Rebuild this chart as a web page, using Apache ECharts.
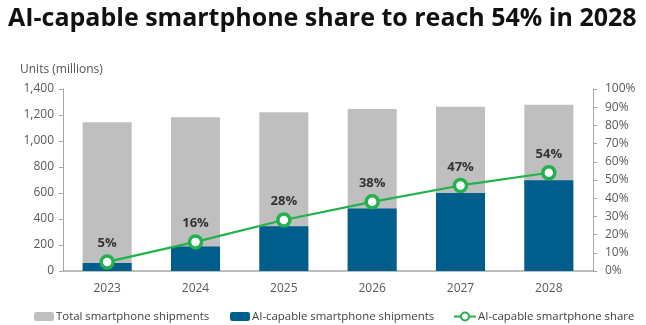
<!DOCTYPE html>
<html><head><meta charset="utf-8">
<script src="https://cdn.jsdelivr.net/npm/echarts@6/dist/echarts.min.js"></script>
<style>html,body{margin:0;padding:0;background:#fff}#c{width:646px;height:325px}</style>
</head><body><div id="c"></div>
<script>
const years = ['2023','2024','2025','2026','2027','2028'];
const totalShipments = [1144, 1182, 1221, 1246, 1264, 1279];
const aiShipments = [62, 188, 345, 480, 600, 698];
const aiShare = [5, 16, 28, 38, 47, 54];
const leftTicks = [0, 200, 400, 600, 800, 1000, 1200, 1400];
const rightTicks = [0, 10, 20, 30, 40, 50, 60, 70, 80, 90, 100];
const seriesNames = ['Total smartphone shipments','AI-capable smartphone shipments','AI-capable smartphone share'];

const chart = echarts.init(document.getElementById('c'), null, {renderer:'canvas'});
const axisTxt = {color:'#595959', fontSize:12, fontFamily:'Open Sans'};
const legTxt = {fontFamily:'Open Sans', fontSize:11.4, color:'#404040', padding:[0,0,0,-3]};
chart.setOption({
  animation:false,
  title:[{text:'AI-capable smartphone share to reach 54% in 2028', left:3, top:1,
    textStyle:{fontFamily:'Open Sans', fontWeight:'bold', fontSize:25, color:'#111'}},
    {text:'Units (millions)', left:15, top:59, textStyle:{fontFamily:'Open Sans', fontWeight:'normal', fontSize:12, color:'#555'}}],
  grid:{left:63, right:53, top:89, bottom:54},
  legend:[
    {bottom:3, left:34, padding:0, itemWidth:20, itemHeight:9, textStyle:legTxt, data:[seriesNames[0]]},
    {bottom:3, left:230, padding:0, itemWidth:20, itemHeight:9, textStyle:legTxt, data:[seriesNames[1]]},
    {bottom:3, left:453, padding:0, itemWidth:22, itemHeight:10, textStyle:legTxt, data:[seriesNames[2]]}
  ],
  xAxis:{type:'category', data:years, axisTick:{show:false},
    axisLine:{lineStyle:{color:'#A6A6A6', width:1.5}},
    axisLabel:Object.assign({margin:12}, axisTxt)},
  yAxis:[
    {type:'value', min:leftTicks[0], max:leftTicks[leftTicks.length-1], interval:200,
     splitLine:{show:false}, axisLine:{show:true, lineStyle:{color:'#A6A6A6'}},
     axisTick:{show:true, length:4, lineStyle:{color:'#A6A6A6'}},
     axisLabel:Object.assign({margin:9, formatter:v=>v.toLocaleString('en-US')}, axisTxt)},
    {type:'value', min:rightTicks[0], max:rightTicks[rightTicks.length-1], interval:10,
     splitLine:{show:false}, axisLine:{show:true, lineStyle:{color:'#A6A6A6'}},
     axisTick:{show:true, length:4, lineStyle:{color:'#A6A6A6'}},
     axisLabel:Object.assign({margin:12, formatter:'{value}%'}, axisTxt)}
  ],
  series:[
    {name:seriesNames[0], type:'bar', data:totalShipments, barWidth:49,
     itemStyle:{color:'#BFBFBF'}, z:1},
    {name:seriesNames[1], type:'bar', data:aiShipments, barWidth:49, barGap:'-100%',
     itemStyle:{color:'#005E8C'}, z:2},
    {name:seriesNames[2], type:'line', yAxisIndex:1, data:aiShare,
     lineStyle:{color:'#22B14C', width:2.2}, symbol:'circle', symbolSize:12,
     itemStyle:{color:'#fff', borderColor:'#22B14C', borderWidth:3.5}, z:5,
     label:{show:true, position:'top', distance:4, formatter:'{c}%',
       fontFamily:'Open Sans', fontWeight:'bold', fontSize:13, color:'#333'}}
  ]
});
</script></body></html>
